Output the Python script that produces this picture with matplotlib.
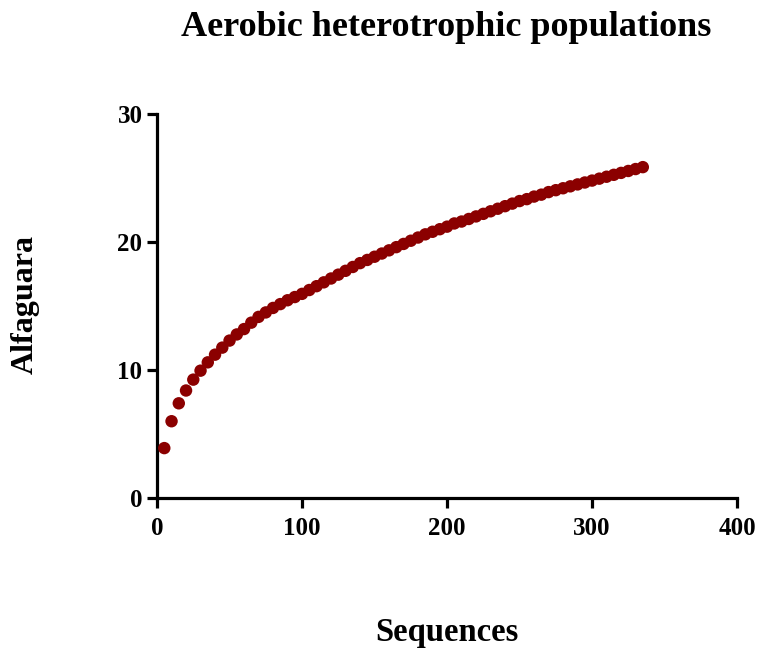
import matplotlib
matplotlib.use("Agg")
import matplotlib.pyplot as plt

sequences = list(range(5, 340, 5))
richness = [3.9, 6.0, 7.4, 8.4, 9.25, 9.95, 10.6, 11.2, 11.75, 12.3,
            12.78, 13.2, 13.7, 14.15, 14.5, 14.85, 15.15, 15.45, 15.7, 15.95,
            16.25, 16.55, 16.85, 17.15, 17.45, 17.75, 18.05, 18.35, 18.6, 18.85,
            19.1, 19.35, 19.6, 19.85, 20.1, 20.35, 20.6, 20.8, 21.0, 21.2,
            21.45, 21.6, 21.8, 22.0, 22.2, 22.4, 22.6, 22.8, 23.0, 23.2,
            23.35, 23.55, 23.7, 23.9, 24.05, 24.2, 24.35, 24.5, 24.65, 24.8,
            24.95, 25.1, 25.25, 25.4, 25.55, 25.7, 25.85]
xticks = [0, 100, 200, 300, 400]
yticks = [0, 10, 20, 30]

plt.rcParams['font.family'] = ['Liberation Serif', 'DejaVu Serif']
plt.rcParams['font.weight'] = 'bold'

fig = plt.figure(figsize=(7.59, 6.5), dpi=100)
ax = fig.add_axes([0.2069, 0.2338, 0.7642, 0.5908])
ax.scatter(sequences, richness, s=80, color='#8B0000', edgecolors='none', zorder=3, clip_on=False)

ax.set_xlim(0, 400)
ax.set_ylim(0, 30)
ax.set_xticks(xticks)
ax.set_yticks(yticks)
for s in ['top', 'right']:
    ax.spines[s].set_visible(False)
for s in ['left', 'bottom']:
    ax.spines[s].set_linewidth(2.3)
ax.tick_params(axis='both', length=7.5, width=2.3, labelsize=18)
ax.tick_params(axis='x', pad=6)
ax.tick_params(axis='y', pad=3)
for lab in ax.get_xticklabels() + ax.get_yticklabels():
    lab.set_fontweight('bold')

fig.text(0.588, 0.958, 'Aerobic heterotrophic populations', ha='center', va='center',
         fontsize=26, fontweight='bold')
fig.text(0.589, 0.027, 'Sequences', ha='center', va='center', fontsize=23.5, fontweight='bold')
fig.text(0.033, 0.531, 'Alfaguara', ha='center', va='center', rotation=90, fontsize=23, fontweight='bold')

fig.savefig('out.png', dpi=100)
